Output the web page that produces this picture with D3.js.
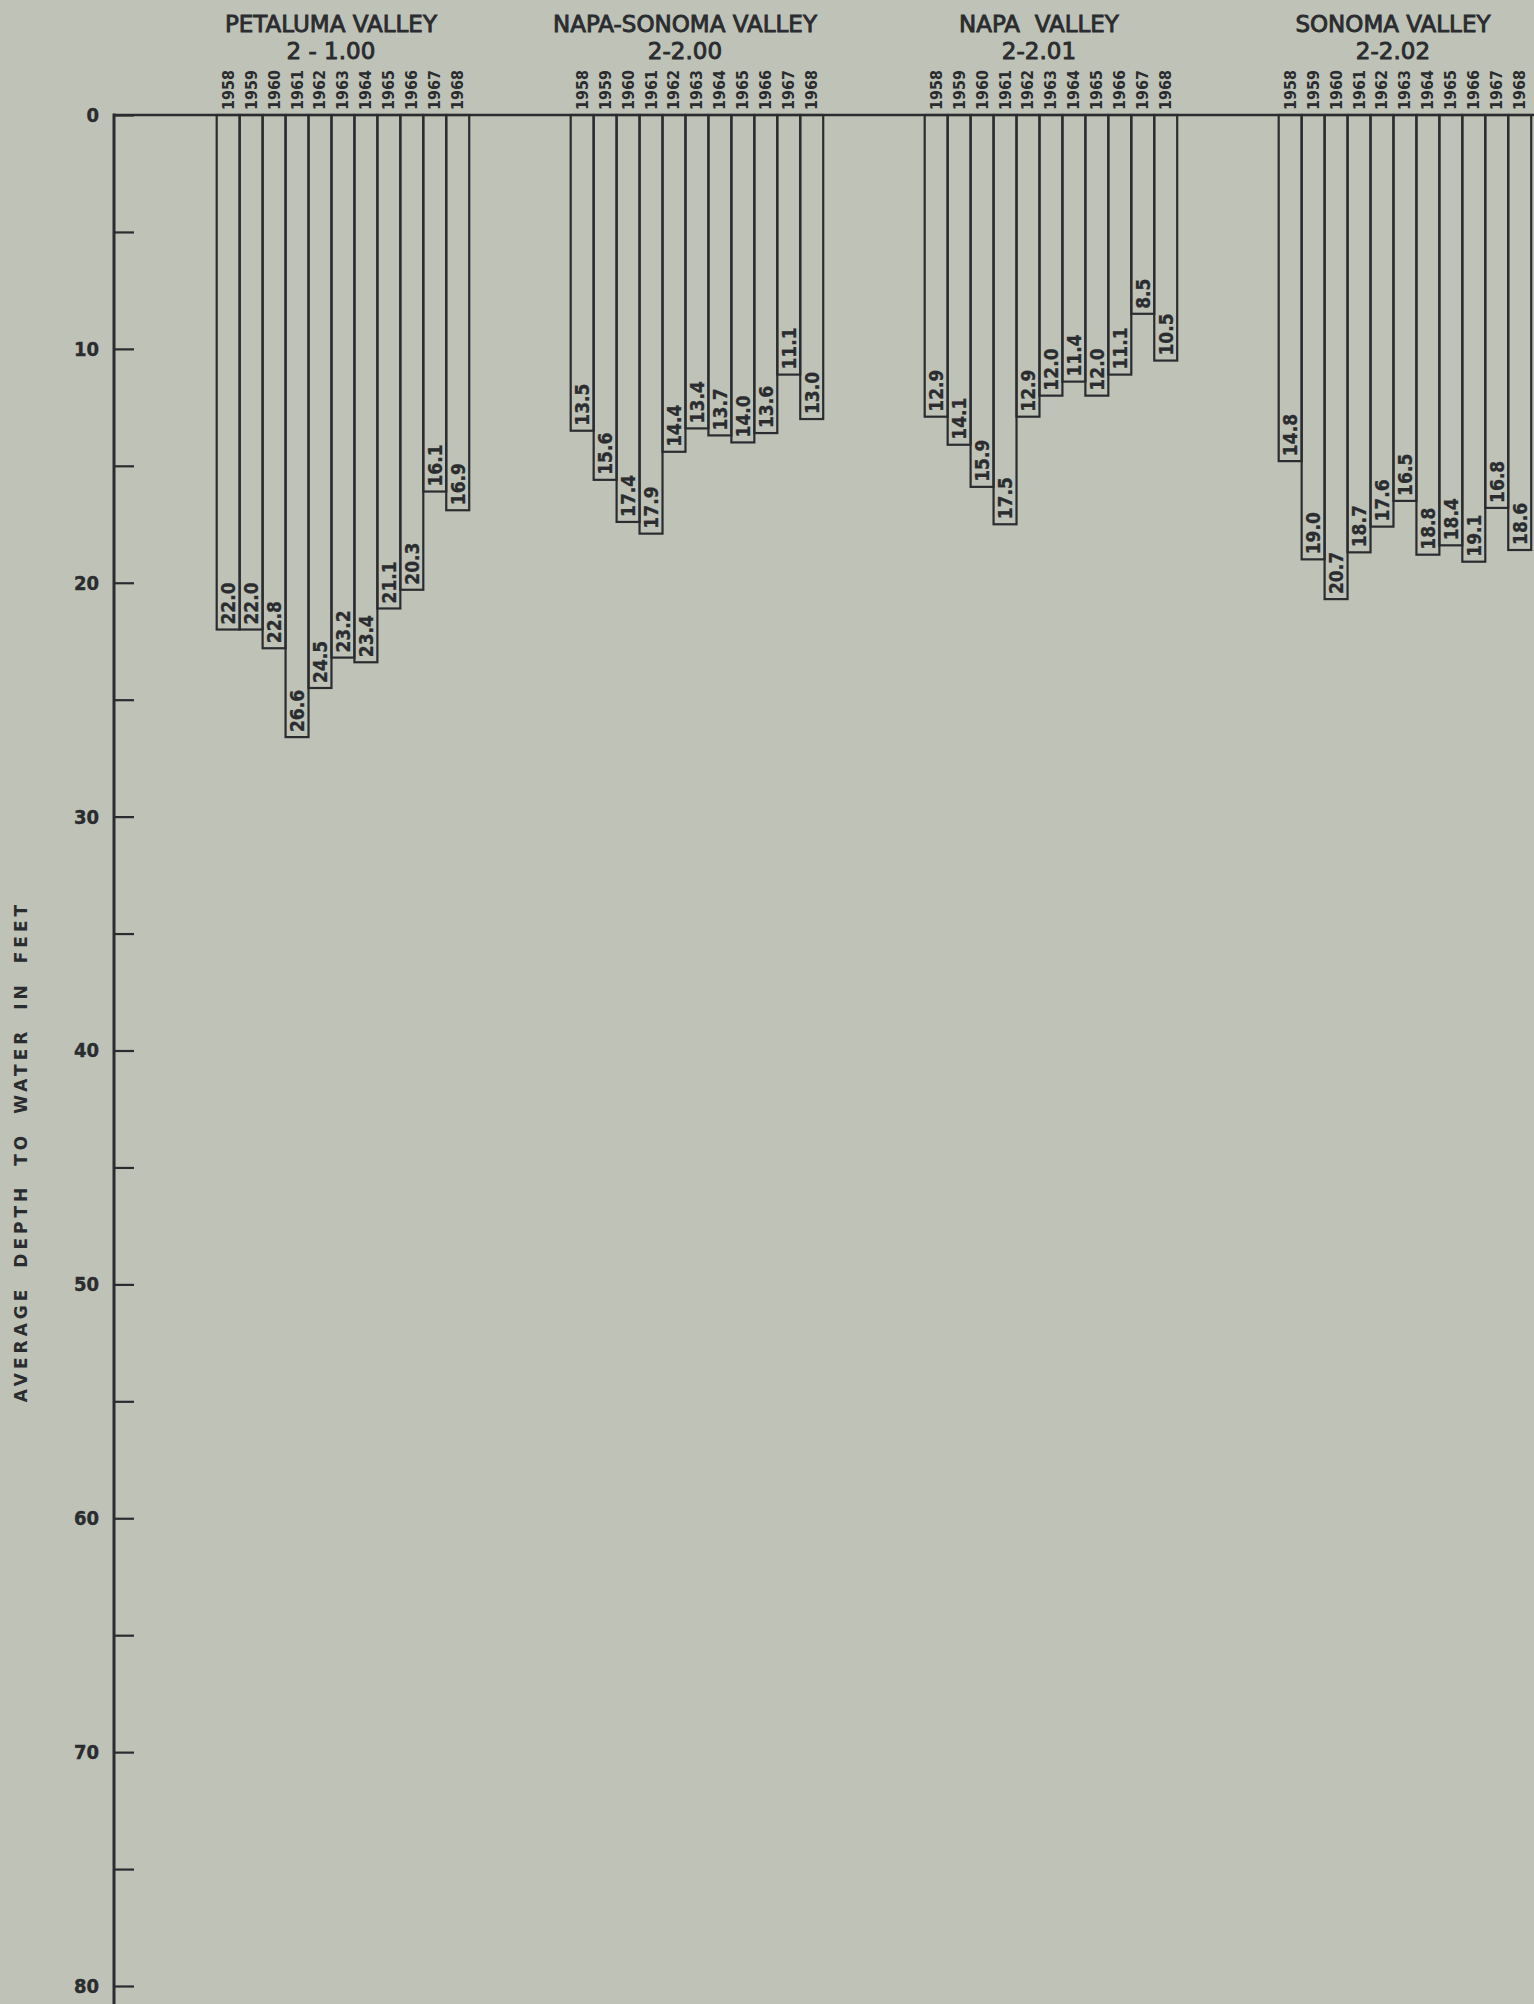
<!DOCTYPE html>
<html>
<head>
<meta charset="utf-8">
<script src="https://cdn.jsdelivr.net/npm/d3@7/dist/d3.min.js"></script>
<style>
  html, body { margin: 0; padding: 0; background: #bfc3b7; }
  svg { display: block; }
</style>
</head>
<body>
<svg id="chart" width="1534" height="2004"></svg>
<script>
// ---- data ----
const basinNames = ["PETALUMA VALLEY", "NAPA-SONOMA VALLEY", "NAPA  VALLEY", "SONOMA VALLEY"];
const basinCodes = ["2 - 1.00", "2-2.00", "2-2.01", "2-2.02"];
const years = ["1958", "1959", "1960", "1961", "1962", "1963", "1964", "1965", "1966", "1967", "1968"];
const petalumaValley   = [22.0, 22.0, 22.8, 26.6, 24.5, 23.2, 23.4, 21.1, 20.3, 16.1, 16.9];
const napaSonomaValley = [13.5, 15.6, 17.4, 17.9, 14.4, 13.4, 13.7, 14.0, 13.6, 11.1, 13.0];
const napaValley       = [12.9, 14.1, 15.9, 17.5, 12.9, 12.0, 11.4, 12.0, 11.1, 8.5, 10.5];
const sonomaValley     = [14.8, 19.0, 20.7, 18.7, 17.6, 16.5, 18.8, 18.4, 19.1, 16.8, 18.6];
const seriesByBasin = [petalumaValley, napaSonomaValley, napaValley, sonomaValley];
const tickValues = [0, 5, 10, 15, 20, 25, 30, 35, 40, 45, 50, 55, 60, 65, 70, 75, 80];
const tickLabels = [0, 10, 20, 30, 40, 50, 60, 70, 80];
const yAxisTitle = "AVERAGE DEPTH TO WATER IN FEET";

// ---- layout ----
const W = 1534, H = 2004;
const ink = "#2a2c30";
const axisX = 114;
const svg = d3.select("#chart");

const y = d3.scaleLinear().domain([0, 80]).range([115, 1986]);

const xGroup = d3.scaleBand()
  .domain(basinNames)
  .range([216.7, 1531.2])
  .paddingInner(0.2867)
  .paddingOuter(0);

const xYear = d3.scaleBand()
  .domain(years)
  .range([0, xGroup.bandwidth()])
  .padding(0);

const condensed = "'DejaVu Sans Condensed', 'DejaVu Sans', sans-serif";
const plain = "'DejaVu Sans', sans-serif";

// ---- y axis ----
const axis = d3.axisLeft(y)
  .tickValues(tickValues)
  .tickSizeInner(-20)
  .tickSizeOuter(0)
  .tickPadding(15)
  .tickFormat(d => tickLabels.includes(d) ? String(d) : "");

const gAxis = svg.append("g")
  .attr("transform", `translate(${axisX},0)`)
  .call(axis);
gAxis.select(".domain").remove();
gAxis.selectAll(".tick line").attr("stroke", ink).attr("stroke-width", 2.2);
gAxis.selectAll(".tick text")
  .attr("fill", ink)
  .attr("stroke", ink).attr("stroke-width", 0.4)
  .style("font-family", condensed)
  .style("font-weight", "bold")
  .style("font-size", "20px");

// axis spine, runs to the bottom of the sheet
svg.append("line")
  .attr("x1", axisX).attr("x2", axisX)
  .attr("y1", y(0) - 1.5).attr("y2", H)
  .attr("stroke", ink).attr("stroke-width", 3);

// zero line
svg.append("line")
  .attr("x1", axisX).attr("x2", W)
  .attr("y1", y(0)).attr("y2", y(0))
  .attr("stroke", ink).attr("stroke-width", 2.6);

// y axis title
svg.append("text")
  .attr("transform", `translate(27,${(903 + 1400) / 2}) rotate(-90)`)
  .attr("text-anchor", "middle")
  .attr("fill", ink)
  .style("font-family", plain)
  .style("font-weight", "bold")
  .style("font-size", "17px")
  .style("letter-spacing", "4px")
  .style("word-spacing", "8px")
  .text(yAxisTitle);

// ---- groups ----
basinNames.forEach((name, gi) => {
  const gx = xGroup(name);
  const g = svg.append("g").attr("transform", `translate(${gx},0)`);
  const cx = xGroup.bandwidth() / 2 - 12;

  g.append("text")
    .attr("x", cx).attr("y", 32)
    .attr("text-anchor", "middle")
    .attr("fill", ink)
    .attr("stroke", ink).attr("stroke-width", 0.9)
    .style("font-family", plain)
    .style("font-size", "23px")
    .attr("xml:space", "preserve")
    .text(name);

  g.append("text")
    .attr("x", cx).attr("y", 59)
    .attr("text-anchor", "middle")
    .attr("fill", ink)
    .attr("stroke", ink).attr("stroke-width", 0.9)
    .style("font-family", plain)
    .style("font-size", "23px")
    .attr("xml:space", "preserve")
    .text(basinCodes[gi]);

  const data = years.map((yr, i) => ({ yr, v: seriesByBasin[gi][i] }));

  // year labels
  g.selectAll("text.year").data(data).enter().append("text")
    .attr("class", "year")
    .attr("transform", d => `translate(${xYear(d.yr) + xYear.bandwidth() / 2 + 5.5},${y(0) - 5}) rotate(-90)`)
    .attr("text-anchor", "start")
    .attr("fill", ink)
    .style("font-family", condensed)
    .style("font-weight", "bold")
    .style("font-size", "16px")
    .text(d => d.yr);

  // bars
  g.selectAll("rect.bar").data(data).enter().append("rect")
    .attr("class", "bar")
    .attr("x", d => xYear(d.yr))
    .attr("y", y(0))
    .attr("width", xYear.bandwidth())
    .attr("height", d => y(d.v) - y(0))
    .attr("fill", "none")
    .attr("stroke", ink)
    .attr("stroke-width", 2.2);

  // value labels
  g.selectAll("text.val").data(data).enter().append("text")
    .attr("class", "val")
    .attr("transform", d => `translate(${xYear(d.yr) + xYear.bandwidth() / 2 + 7},${y(d.v) - 5}) rotate(-90)`)
    .attr("text-anchor", "start")
    .attr("fill", ink)
    .attr("stroke", ink).attr("stroke-width", 0.3)
    .style("font-family", condensed)
    .style("font-weight", "bold")
    .style("font-size", "19px")
    .text(d => d.v.toFixed(1));
});
</script>
</body>
</html>
